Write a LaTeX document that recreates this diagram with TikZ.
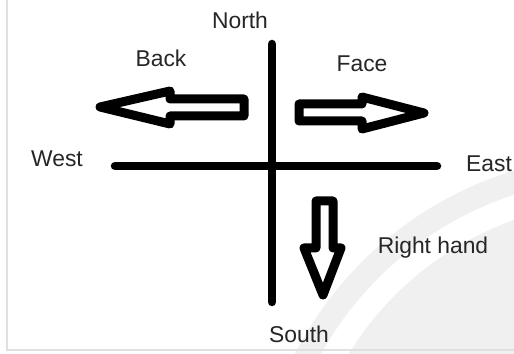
\documentclass[tikz,border=0pt]{standalone}
\usepackage{fontspec}
\setmainfont{Liberation Sans}
\usetikzlibrary{positioning}
\tikzset{
  axisln/.style={line width=0.17cm, line cap=round, black},
  blockarr/.style={line width=0.18cm, line join=round, black},
  lbl/.style={font=\fontsize{13}{15}\selectfont, text=black!85, inner sep=1pt},
  wmark/.style={fill=black!6, draw=none},
}
\begin{document}
\begin{tikzpicture}[x=0.02cm, y=-0.02cm]
      \useasboundingbox (0,0) rectangle (514,354);
      \fill[white] (0,0) rectangle (514,354);
      % faint watermark arcs, drawn first
      \begin{scope}
        \clip (0,0) rectangle (514,354);
        \fill[wmark, even odd rule] (620,520) circle (365) (620,520) circle (342);
        \fill[wmark] (620,520) circle (318);
        \draw[black!12, line width=0.6pt] (7,0) -- (7,350) -- (514,350);
      \end{scope}
      % cross
      \coordinate (n) at (272,44);
      \coordinate (s) at (272,302);
      \coordinate (w) at (115,166);
      \coordinate (e) at (437,166);
      \draw[axisln] (n) -- (s);
      \draw[axisln] (w) -- (e);
      % block arrows
      \draw[blockarr] (244,99) -- (170,99) -- (170,91) -- (100,107) -- (170,124)
        -- (170,116) -- (244,116) -- cycle;
      \draw[blockarr] (299,104) -- (362,104) -- (362,97) -- (424,113) -- (362,129)
        -- (362,121) -- (299,121) -- cycle;
      \draw[blockarr] (316,201) -- (333,201) -- (333,248) -- (341,248) -- (323,295)
        -- (304,248) -- (316,248) -- cycle;
      % labels
      \node[lbl] (north) at (240,20) {North};
      \node[lbl] (south) at (299,334) {South};
      \node[lbl] (west) at (57,159) {West};
      \node[lbl] (east) at (489,164) {East};
      \node[lbl] (back) at (161,58) {Back};
      \node[lbl] (face) at (362,64) {Face};
      \node[lbl] (rhand) at (433,248) {Right hand};
    \end{tikzpicture}
\end{document}
